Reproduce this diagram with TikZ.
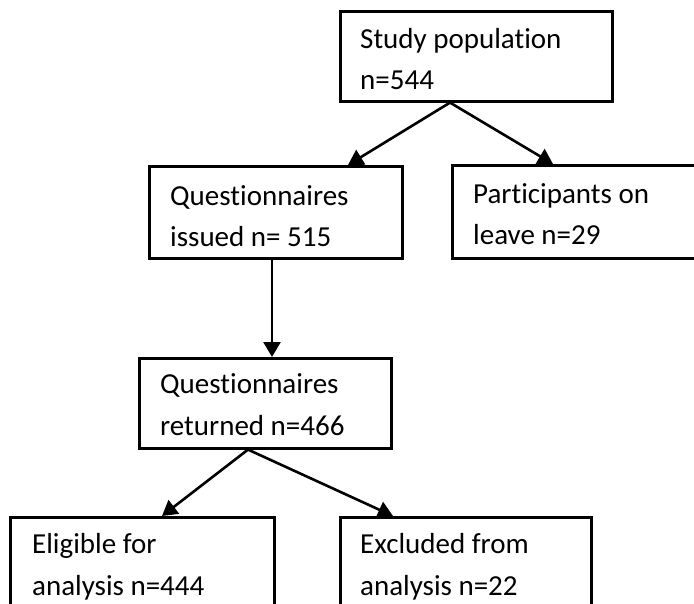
\documentclass[tikz,border=0pt]{standalone}
\usepackage{fontspec}
\setmainfont{Carlito}[Ligatures=CommonOff]
\usetikzlibrary{arrows.meta, positioning, calc}

\begin{document}
\begin{tikzpicture}[x=1pt, y=-1pt,
   box/.style={draw, line width=2.6pt, anchor=north west, inner sep=0pt},
   txt/.style={anchor=base west, inner sep=0pt, align=left,
               font=\fontsize{29}{41.5}\selectfont},
   flow/.style={line width=2.6pt, -{Triangle[length=15pt, width=17pt]}}]

  \useasboundingbox (0,0) rectangle (694,604);
  \clip (0,0) rectangle (694,604);

  % boxes
  \node[box, minimum width=272pt, minimum height=90pt] (study) at (339,10) {};
  \node[box, minimum width=253pt, minimum height=92pt] (issued) at (148,165) {};
  \node[box, minimum width=270pt, minimum height=93pt] (leave) at (451,164) {};
  \node[box, minimum width=252pt, minimum height=90pt] (returned) at (138,357) {};
  \node[box, minimum width=264pt, minimum height=130pt] (eligible) at (9,516) {};
  \node[box, minimum width=251pt, minimum height=130pt] (excluded) at (339,516) {};

  % texts (anchored on the baseline of the last line)
  \node[txt] (study-t) at ($(study.north west)+(21,80)$) {Study population\\n=544};
  \node[txt] (issued-t) at ($(issued.north west)+(22,82)$) {Questionnaires\\issued n= 515};
  \node[txt] (leave-t) at ($(leave.north west)+(22,81)$) {Participants on\\leave n=29};
  \node[txt] (returned-t) at ($(returned.north west)+(22,78)$) {Questionnaires\\returned n=466};
  \node[txt] (eligible-t) at ($(eligible.north west)+(23,79)$) {Eligible for\\analysis n=444};
  \node[txt] (excluded-t) at ($(excluded.north west)+(21,79)$) {Excluded from\\analysis n=22};

  % arrows
  \draw[flow] ($(study.south west)+(111,0)$) -- ($(issued.north west)+(200,0)$);
  \draw[flow] ($(study.south west)+(111,0)$) -- ($(leave.north west)+(102,0)$);
  \draw[flow] ($(issued.south west)+(124,0)$) -- ($(returned.north west)+(134,0)$);
  \draw[flow] ($(returned.south west)+(110,0)$) -- ($(eligible.north west)+(153,0)$);
  \draw[flow] ($(returned.south west)+(110,0)$) -- ($(excluded.north west)+(54,0)$);
\end{tikzpicture}
\end{document}
